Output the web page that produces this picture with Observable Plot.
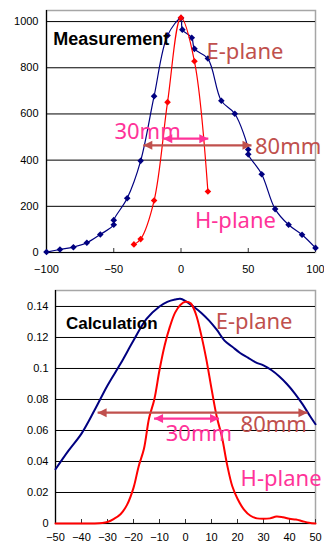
<!DOCTYPE html>
<html><head><meta charset="utf-8">
<script src="https://cdn.jsdelivr.net/npm/d3@7"></script>
<script src="https://cdn.jsdelivr.net/npm/@observablehq/plot@0.6"></script>
<style>
body{margin:0;background:#fff;}
#chart{width:324px;height:548px;position:relative;overflow:hidden;background:#fff;}
#chart svg{display:block;}
</style></head><body><div id="chart"></div>
<script>
// ---------- Measurement (top) ----------
const measXTicks = [-100, -50, 0, 50, 100];
const measYTicks = [0, 200, 400, 600, 800, 1000];
const measE_x = [-100,-90,-80,-70,-60,-50,-50,-40,-30,-20,-10,0,1,8,10,20,30,40,50,50,60,70,80,90,100];
const measE_y = [2,13,23,42,78,120,140,235,397,677,940,1015,965,930,882,840,657,601,446,425,339,188,120,77,20];
const measH_x = [-35,-30,-20,-10,0,10,20];
const measH_y = [35,58,225,651,1017,828,264];
// width markers (mm) and their level
const measWide = {from: -28, to: 52.4, level: 464, label: "80mm"};
const measNarrow = {from: -13.2, to: 20.3, level: 493, label: "30mm"};
const measTitle = "Measurement";

// ---------- Calculation (bottom) ----------
const calcXTicks = [-50,-40,-30,-20,-10,0,10,20,30,40,50];
const calcYTicks = [0,0.02,0.04,0.06,0.08,0.1,0.12,0.14];
const calcE_x = [-50,-45,-40,-35,-30,-25,-20,-15,-10,-7,-4,-2,0,3,6,9,12,15,18,21,24,27,30,33,36,39,42,45,48,50];
const calcE_y = [0.035,0.047,0.058,0.073,0.089,0.103,0.118,0.132,0.140,0.143,0.1445,0.145,0.1435,0.140,0.136,0.131,0.125,0.118,0.114,0.110,0.107,0.104,0.102,0.099,0.095,0.090,0.084,0.077,0.069,0.064];
const calcH_x = [-50,-40,-35,-32,-30,-27.5,-25,-22.5,-20,-18,-16,-14,-12,-10,-8,-6,-4,-2,0,2,4,6,8,10,12,14,16,18,20,22.5,25,27.5,30,32.5,35,37.5,40,42.5,45,47.5,50];
const calcH_y = [0,0,0,0.0003,0.001,0.003,0.006,0.012,0.023,0.037,0.048,0.068,0.080,0.099,0.115,0.127,0.136,0.141,0.143,0.142,0.135,0.122,0.106,0.087,0.069,0.056,0.038,0.024,0.016,0.009,0.005,0.0033,0.003,0.0033,0.0045,0.004,0.003,0.0026,0.0015,0.0005,0];
const calcWide = {from: -33.8, to: 46.9, level: 0.0715, label: "80mm"};
const calcNarrow = {from: -12.1, to: 12.9, level: 0.0677, label: "30mm"};
const calcTitle = "Calculation";

const ePlaneLabel = "E-plane";
const hPlaneLabel = "H-plane";

// ---------- styles ----------
const NAVY = "#000080", RED = "#ff0000", BROWN = "#c0504d", PINK = "#ff3399";
const TICKFONT = "'Liberation Sans', Arial, sans-serif";
const LABELFONT = "'Noto Sans', 'Open Sans', sans-serif";

const triRight = {draw(ctx){ ctx.moveTo(0,0); ctx.lineTo(-9,-4.5); ctx.lineTo(-9,4.5); ctx.closePath(); }};
const triLeft  = {draw(ctx){ ctx.moveTo(0,0); ctx.lineTo(9,-4.5); ctx.lineTo(9,4.5); ctx.closePath(); }};
const squareDiamond = {draw(ctx){ const s = 3.3; ctx.moveTo(0,-s); ctx.lineTo(s,0); ctx.lineTo(0,s); ctx.lineTo(-s,0); ctx.closePath(); }};

const zipXY = (xs, ys) => xs.map((x, i) => ({x, y: ys[i]}));

function arrowMarks(m, color) {
  return [
    Plot.link([m], {x1: "from", x2: "to", y1: "level", y2: "level", stroke: color, strokeWidth: 2.2}),
    Plot.dot([m], {x: "from", y: "level", symbol: triLeft, fill: color, stroke: null}),
    Plot.dot([m], {x: "to", y: "level", symbol: triRight, fill: color, stroke: null})
  ];
}

function label(items, opts) {
  return Plot.text(items, {x: "x", y: "y", text: "text", textAnchor: "start", fontFamily: LABELFONT, ...opts});
}

function chart(cfg) {
  return Plot.plot({
    width: 324, height: cfg.height,
    marginLeft: cfg.marginLeft, marginRight: 9, marginTop: 10, marginBottom: cfg.marginBottom,
    x: {domain: cfg.xDomain, label: null},
    y: {domain: cfg.yDomain, label: null},
    style: {fontFamily: TICKFONT, fontSize: "11px", color: "black", background: "white", overflow: "visible"},
    marks: [
      Plot.frame({stroke: "#a6a6a6", strokeWidth: 1.5}),
      Plot.gridY(cfg.yTicks.slice(1), {stroke: "black", strokeOpacity: 1, strokeWidth: 1}),
      Plot.tickX(cfg.xTicks, {x: d => d, stroke: "#333", insetTop: cfg.innerH - 4}),
      Plot.ruleY([cfg.yDomain[0]], {stroke: "black", strokeWidth: 1.2}),
      Plot.ruleX([cfg.xDomain[0]], {stroke: "black", strokeWidth: 1.2}),
      Plot.axisY(cfg.yTicks, {tickSize: 0, tickPadding: cfg.yPad, fontSize: 11, tickFormat: cfg.yFormat}),
      Plot.axisX(cfg.xTicks, {tickSize: 0, tickPadding: cfg.xPad, fontSize: 11}),
      ...cfg.marks
    ]
  });
}

const topChart = chart({
  height: 280, marginLeft: 46, marginBottom: 28, innerH: 242,
  xDomain: [-100, 100], yDomain: [0, 1048],
  xTicks: measXTicks, yTicks: measYTicks, yPad: 8, xPad: 13, yFormat: d3.format("d"),
  marks: [
    Plot.line(zipXY(measE_x, measE_y), {x: "x", y: "y", stroke: NAVY, strokeWidth: 1.2, curve: "catmull-rom"}),
    Plot.dot(zipXY(measE_x, measE_y), {x: "x", y: "y", symbol: squareDiamond, fill: NAVY, stroke: null}),
    Plot.line(zipXY(measH_x, measH_y), {x: "x", y: "y", stroke: RED, strokeWidth: 1.2, curve: "catmull-rom"}),
    Plot.dot(zipXY(measH_x, measH_y), {x: "x", y: "y", symbol: squareDiamond, fill: RED, stroke: null}),
    ...arrowMarks(measNarrow, PINK),
    ...arrowMarks(measWide, BROWN),
    label([{x: -95, y: 922, text: measTitle}], {fill: "black", fontSize: 18, fontWeight: "bold", fontFamily: "'Liberation Sans', Arial, sans-serif"}),
    label([{x: 19, y: 868, text: ePlaneLabel}], {fill: BROWN, fontSize: 22}),
    label([{x: -49.5, y: 521, text: measNarrow.label}], {fill: PINK, fontSize: 22}),
    label([{x: 55, y: 456, text: measWide.label}], {fill: BROWN, fontSize: 22}),
    label([{x: 10.4, y: 136, text: hPlaneLabel}], {fill: PINK, fontSize: 22})
  ]
});

const bottomChart = chart({
  height: 268, marginLeft: 55, marginBottom: 25, innerH: 233,
  xDomain: [-50, 50], yDomain: [0, 0.1503],
  xTicks: calcXTicks, yTicks: calcYTicks, yPad: 7, xPad: 10, yFormat: d3.format("~g"),
  marks: [
    Plot.line(zipXY(calcE_x, calcE_y), {x: "x", y: "y", stroke: NAVY, strokeWidth: 2, curve: "catmull-rom"}),
    Plot.line(zipXY(calcH_x, calcH_y), {x: "x", y: "y", stroke: RED, strokeWidth: 2, curve: "catmull-rom"}),
    ...arrowMarks(calcWide, BROWN),
    ...arrowMarks(calcNarrow, PINK),
    label([{x: -46, y: 0.1289, text: calcTitle}], {fill: "black", fontSize: 17, fontWeight: "bold", fontFamily: "'Liberation Sans', Arial, sans-serif"}),
    label([{x: 11.6, y: 0.1299, text: ePlaneLabel}], {fill: BROWN, fontSize: 22}),
    label([{x: 21.2, y: 0.0633, text: calcWide.label}], {fill: BROWN, fontSize: 22}),
    label([{x: -7.6, y: 0.058, text: calcNarrow.label}], {fill: PINK, fontSize: 22}),
    label([{x: 21.2, y: 0.029, text: hPlaneLabel}], {fill: PINK, fontSize: 22})
  ]
});

const root = document.getElementById("chart");
root.appendChild(topChart);
root.appendChild(bottomChart);
</script>
</body></html>
